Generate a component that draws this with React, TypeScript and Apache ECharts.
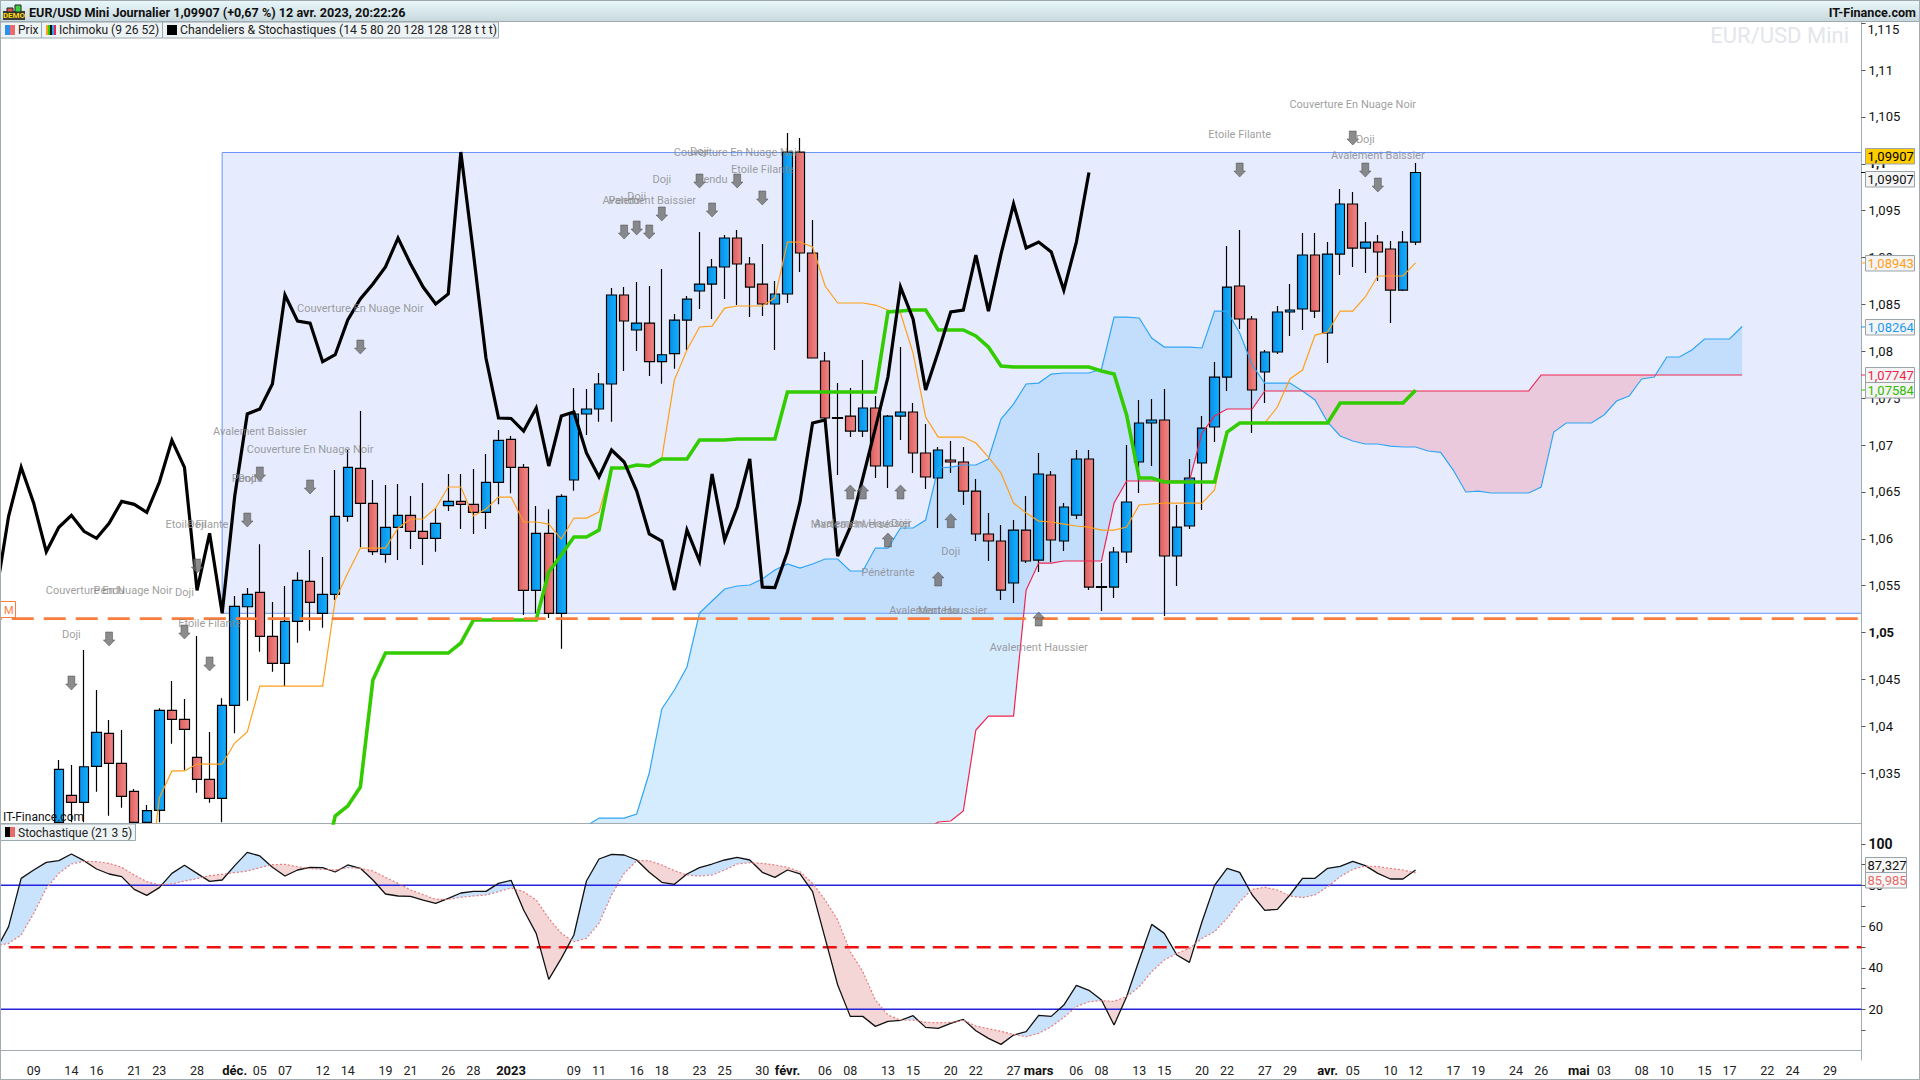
import React, { useEffect, useRef } from "react";
import * as echarts from "echarts";

const categories = [
"2022-11-04","2022-11-07","2022-11-08","2022-11-09","2022-11-10","2022-11-11","2022-11-14","2022-11-15","2022-11-16","2022-11-17","2022-11-18","2022-11-21","2022-11-22","2022-11-23","2022-11-24","2022-11-25","2022-11-28","2022-11-29","2022-11-30",
"2022-12-01","2022-12-02","2022-12-05","2022-12-06","2022-12-07","2022-12-08","2022-12-09","2022-12-12","2022-12-13","2022-12-14","2022-12-15","2022-12-16","2022-12-19","2022-12-20","2022-12-21","2022-12-22","2022-12-23","2022-12-26","2022-12-27","2022-12-28","2022-12-29","2022-12-30",
"2023-01-02","2023-01-03","2023-01-04","2023-01-05","2023-01-06","2023-01-09","2023-01-10","2023-01-11","2023-01-12","2023-01-13","2023-01-16","2023-01-17","2023-01-18","2023-01-19","2023-01-20","2023-01-23","2023-01-24","2023-01-25","2023-01-26","2023-01-27","2023-01-30","2023-01-31",
"2023-02-01","2023-02-02","2023-02-03","2023-02-06","2023-02-07","2023-02-08","2023-02-09","2023-02-10","2023-02-13","2023-02-14","2023-02-15","2023-02-16","2023-02-17","2023-02-20","2023-02-21","2023-02-22","2023-02-23","2023-02-24","2023-02-27","2023-02-28",
"2023-03-01","2023-03-02","2023-03-03","2023-03-06","2023-03-07","2023-03-08","2023-03-09","2023-03-10","2023-03-13","2023-03-14","2023-03-15","2023-03-16","2023-03-17","2023-03-20","2023-03-21","2023-03-22","2023-03-23","2023-03-24","2023-03-27","2023-03-28","2023-03-29","2023-03-30","2023-03-31",
"2023-04-03","2023-04-04","2023-04-05","2023-04-06","2023-04-07","2023-04-10","2023-04-11","2023-04-12","2023-04-13","2023-04-14","2023-04-17","2023-04-18","2023-04-19","2023-04-20","2023-04-21","2023-04-24","2023-04-25","2023-04-26","2023-04-27","2023-04-28",
"2023-05-01","2023-05-02","2023-05-03","2023-05-04","2023-05-05","2023-05-08","2023-05-09","2023-05-10","2023-05-11","2023-05-12","2023-05-15","2023-05-16","2023-05-17","2023-05-18","2023-05-19","2023-05-22","2023-05-23","2023-05-24","2023-05-25","2023-05-26","2023-05-29","2023-05-30","2023-05-31",
];

const tickLabels: Record<string, string> = {
"2022-11-09":"09","2022-11-14":"14","2022-11-16":"16","2022-11-21":"21","2022-11-23":"23","2022-11-28":"28","2022-11-30":"","2022-12-01":"déc.","2022-12-05":"05","2022-12-07":"07","2022-12-12":"12","2022-12-14":"14","2022-12-19":"19","2022-12-21":"21","2022-12-26":"26","2022-12-28":"28",
"2023-01-02":"2023","2023-01-04":"","2023-01-09":"09","2023-01-11":"11","2023-01-16":"16","2023-01-18":"18","2023-01-23":"23","2023-01-25":"25","2023-01-30":"30","2023-02-01":"févr.","2023-02-06":"06","2023-02-08":"08","2023-02-13":"13","2023-02-15":"15","2023-02-20":"20","2023-02-22":"22","2023-02-27":"27",
"2023-03-01":"mars","2023-03-06":"06","2023-03-08":"08","2023-03-13":"13","2023-03-15":"15","2023-03-20":"20","2023-03-22":"22","2023-03-27":"27","2023-03-29":"29","2023-04-03":"avr.","2023-04-05":"05","2023-04-10":"10","2023-04-12":"12","2023-04-17":"17","2023-04-19":"19","2023-04-24":"24","2023-04-26":"26",
"2023-05-01":"mai","2023-05-03":"03","2023-05-08":"08","2023-05-10":"10","2023-05-15":"15","2023-05-17":"17","2023-05-22":"22","2023-05-24":"24","2023-05-29":"29",
};
const boldTickLabels = ["déc.", "2023", "févr.", "mars", "avr.", "mai"];

const priceTicks = [1.035,1.04,1.045,1.05,1.055,1.06,1.065,1.07,1.075,1.08,1.085,1.09,1.095,1.1,1.105,1.11];
const boldPriceTicks = [1.05, 1.1];
const stochTicks = [20,40,60,80,100];
const stochMinorTicks = [10,20,30,40,50,60,70,80,90,100];

// Candles start on 2022-11-11 (index 5). Values below the panel's lower edge are unseen in the picture: they stop at that edge.
const opens = [1.02975,1.03263,1.03189,1.03573,1.03925,1.03605,1.03306,1.02975,1.03103,1.0417,1.04074,1.03669,1.03434,1.03231,1.04223,1.05275,1.05429,1.04959,1.04671,1.05119,1.05546,1.05205,1.05407,1.06239,1.06751,1.06378,1.05834,1.06122,1.0625,1.06079,1.06005,1.06353,1.06399,1.06367,1.06282,1.06602,1.07061,1.06762,1.0545,1.06058,1.05205,1.06627,1.07331,1.07384,1.07651,1.086,1.08227,1.08301,1.07889,1.07974,1.08333,1.08643,1.08717,1.08899,1.09208,1.08931,1.08717,1.08504,1.08611,1.10125,1.09048,1.07896,1.07293,1.07309,1.07149,1.07395,1.06776,1.07309,1.07352,1.06915,1.06648,1.0684,1.06819,1.06509,1.06051,1.05976,1.05528,1.06093,1.05773,1.0668,1.05976,1.06253,1.06851,1.0549,1.05485,1.05859,1.06819,1.07235,1.07267,1.05816,1.06136,1.06808,1.07192,1.07725,1.08696,1.08344,1.07779,1.07992,1.08419,1.08451,1.09027,1.08195,1.09037,1.09571,1.09101,1.09165,1.09091,1.08653,1.09165];
const closes = [1.03541,1.03189,1.03568,1.03935,1.03605,1.03253,1.02975,1.03099,1.0417,1.04074,1.03967,1.03434,1.03231,1.04223,1.05279,1.05407,1.04959,1.04671,1.05119,1.05557,1.05322,1.05407,1.06239,1.06762,1.06378,1.05862,1.06122,1.0625,1.06079,1.06005,1.06165,1.06399,1.06367,1.06282,1.06602,1.0705,1.06762,1.0545,1.06058,1.05205,1.06453,1.07331,1.07384,1.07651,1.086,1.08323,1.08301,1.07889,1.07963,1.08333,1.08557,1.08717,1.08899,1.09208,1.08931,1.08685,1.08504,1.08611,1.10125,1.09048,1.07928,1.07288,1.07283,1.07149,1.07395,1.06776,1.07309,1.07352,1.06915,1.06659,1.06947,1.06819,1.06509,1.06051,1.05976,1.05453,1.06093,1.05763,1.06691,1.05987,1.06339,1.06851,1.05485,1.0548,1.05859,1.06392,1.07235,1.07267,1.05816,1.06125,1.06648,1.07181,1.07725,1.08685,1.08344,1.07587,1.07992,1.08419,1.0844,1.09027,1.08429,1.09037,1.09571,1.09101,1.09165,1.09059,1.08653,1.09165,1.09907];
const highs = [1.0364,1.03587,1.04813,1.04387,1.04067,1.0396,1.03331,1.0316,1.04191,1.04483,1.04291,1.04963,1.03939,1.04298,1.05389,1.05475,1.05941,1.05325,1.05496,1.05642,1.0588,1.05805,1.06733,1.06947,1.07363,1.06627,1.06573,1.06584,1.06456,1.06595,1.06325,1.06691,1.06691,1.06744,1.06904,1.0716,1.07096,1.06797,1.06349,1.06314,1.06474,1.07608,1.07597,1.07768,1.08675,1.08685,1.08739,1.08696,1.08877,1.08397,1.08589,1.09272,1.08984,1.0924,1.09293,1.09005,1.09144,1.08749,1.10328,1.10275,1.094,1.07992,1.07661,1.07608,1.07907,1.07523,1.0732,1.08045,1.07448,1.07224,1.06979,1.07043,1.06979,1.06637,1.06275,1.06147,1.062,1.06456,1.06915,1.06723,1.06381,1.06947,1.06947,1.05741,1.05912,1.07,1.0748,1.07491,1.07597,1.0636,1.06851,1.07309,1.07885,1.09123,1.09293,1.08376,1.08013,1.08483,1.08717,1.09261,1.09261,1.09165,1.09731,1.09699,1.09379,1.0924,1.09176,1.09283,1.10008];
const lows = [1.02975,1.02975,1.02975,1.03302,1.03046,1.03131,1.02975,1.02975,1.02975,1.03814,1.03533,1.03291,1.03184,1.02975,1.03925,1.04272,1.04795,1.04582,1.04429,1.04891,1.05019,1.05051,1.05347,1.06182,1.05909,1.05827,1.05744,1.05773,1.05891,1.0572,1.05862,1.06296,1.06104,1.06051,1.06104,1.06367,1.06485,1.05187,1.05205,1.05155,1.04827,1.06513,1.07107,1.07249,1.07249,1.07789,1.08003,1.07736,1.07654,1.07814,1.08013,1.08451,1.08344,1.08557,1.08493,1.08365,1.08376,1.08013,1.08515,1.08845,1.07928,1.07277,1.0668,1.07085,1.07085,1.06648,1.06541,1.07053,1.06701,1.06531,1.06115,1.06701,1.0636,1.05976,1.05763,1.05347,1.05315,1.05741,1.05645,1.05752,1.05869,1.06211,1.05453,1.05229,1.05368,1.05741,1.06488,1.06776,1.05176,1.05496,1.06104,1.06307,1.07032,1.07576,1.08237,1.07128,1.07448,1.07971,1.08163,1.08227,1.08355,1.07875,1.08813,1.08899,1.08835,1.08749,1.08301,1.08643,1.09133];
const candleStart = 5;

// Ichimoku lines, each with the index of its first point
const chikouStart = 0;
const chikou = [1.05407,1.06239,1.06762,1.06378,1.05862,1.06122,1.0625,1.06079,1.06005,1.06165,1.06399,1.06367,1.06282,1.06602,1.0705,1.06762,1.0545,1.06058,1.05205,1.06453,1.07331,1.07384,1.07651,1.086,1.08323,1.08301,1.07889,1.07963,1.08333,1.08557,1.08717,1.08899,1.09208,1.08931,1.08685,1.08504,1.08611,1.10125,1.09048,1.07928,1.07288,1.07283,1.07149,1.07395,1.06776,1.07309,1.07352,1.06915,1.06659,1.06947,1.06819,1.06509,1.06051,1.05976,1.05453,1.06093,1.05763,1.06691,1.05987,1.06339,1.06851,1.05485,1.0548,1.05859,1.06392,1.07235,1.07267,1.05816,1.06125,1.06648,1.07181,1.07725,1.08685,1.08344,1.07587,1.07992,1.08419,1.0844,1.09027,1.08429,1.09037,1.09571,1.09101,1.09165,1.09059,1.08653,1.09165,1.09907];
const tenkanStart = 12;
const tenkan = [1.02136,1.03235,1.03523,1.03523,1.03597,1.03597,1.03597,1.03821,1.03939,1.04429,1.04429,1.04429,1.04429,1.04429,1.04429,1.05347,1.05635,1.05901,1.05901,1.05901,1.06115,1.06211,1.06211,1.06328,1.06552,1.06552,1.06243,1.06317,1.06445,1.06445,1.06179,1.06179,1.06157,1.05997,1.06221,1.06221,1.06285,1.06755,1.06755,1.06787,1.06787,1.06861,1.07693,1.08013,1.08259,1.08269,1.08461,1.08483,1.08483,1.08483,1.08568,1.09165,1.09165,1.09112,1.08696,1.08515,1.08515,1.08515,1.08493,1.0844,1.08408,1.07981,1.07299,1.07085,1.07085,1.07085,1.07021,1.06872,1.06701,1.06381,1.06275,1.06189,1.06179,1.06157,1.06136,1.06125,1.06093,1.06093,1.06125,1.0636,1.06371,1.06381,1.06381,1.06381,1.06381,1.0652,1.07139,1.07235,1.07235,1.07235,1.07405,1.07704,1.078,1.08173,1.08205,1.08429,1.08429,1.08579,1.08803,1.08803,1.08803,1.08943];
const kijunStart = 26;
const kijun = [1.02467,1.03043,1.03149,1.03352,1.04493,1.04781,1.04781,1.04781,1.04781,1.04781,1.04781,1.04888,1.05133,1.05133,1.05133,1.05133,1.05133,1.05133,1.05645,1.05827,1.06019,1.06019,1.06093,1.06755,1.06755,1.06787,1.06776,1.06851,1.06851,1.06851,1.07053,1.07053,1.07053,1.07064,1.07064,1.07064,1.07064,1.07565,1.07565,1.07565,1.07565,1.07565,1.07565,1.07565,1.07565,1.08419,1.0843,1.0844,1.0844,1.08227,1.08227,1.08227,1.08163,1.08045,1.07843,1.07832,1.07832,1.07832,1.07832,1.07832,1.07832,1.07832,1.07789,1.07757,1.0732,1.06648,1.06648,1.06605,1.06605,1.06605,1.06605,1.06605,1.07139,1.07235,1.07235,1.07235,1.07235,1.07235,1.07235,1.07235,1.07235,1.07448,1.07448,1.07448,1.07448,1.07448,1.07448,1.07584];
const senkouStart = 46;
const senkouA = [1.015,1.02936,1.03021,1.03021,1.03021,1.03064,1.03501,1.04184,1.04387,1.04632,1.05208,1.05336,1.05464,1.05496,1.05507,1.05571,1.05667,1.05731,1.05688,1.05731,1.05784,1.05784,1.05656,1.05656,1.05901,1.05901,1.06115,1.06115,1.062,1.06755,1.06765,1.06787,1.06787,1.06851,1.07277,1.07437,1.07651,1.07661,1.07757,1.07768,1.07768,1.07768,1.07811,1.08365,1.08365,1.08355,1.08141,1.08045,1.08045,1.08045,1.08035,1.08429,1.08429,1.08195,1.07853,1.07661,1.07661,1.07661,1.07576,1.0748,1.07245,1.07096,1.07043,1.07011,1.07011,1.06989,1.06979,1.06979,1.06936,1.06922,1.06733,1.06499,1.06509,1.06488,1.06488,1.06488,1.06488,1.06552,1.07139,1.07235,1.07235,1.07235,1.0732,1.07469,1.07523,1.07704,1.07725,1.07939,1.07939,1.08013,1.08131,1.08131,1.08131,1.08264];
const senkouB = [1.02893,1.02893,1.02893,1.02893,1.02893,1.02893,1.02893,1.02893,1.02893,1.02893,1.02893,1.02893,1.02893,1.02893,1.02893,1.02893,1.02893,1.02893,1.02893,1.02893,1.02893,1.02893,1.02893,1.02893,1.02893,1.02893,1.02893,1.02893,1.02893,1.02979,1.02989,1.03096,1.0396,1.04109,1.04109,1.04109,1.05453,1.05741,1.05741,1.05763,1.05763,1.05763,1.05763,1.06381,1.06616,1.06616,1.06616,1.06616,1.06616,1.06616,1.07128,1.07309,1.07384,1.07384,1.07384,1.07576,1.07576,1.07576,1.07576,1.07576,1.07576,1.07576,1.07576,1.07576,1.07576,1.07576,1.07576,1.07576,1.07576,1.07576,1.07576,1.07576,1.07576,1.07576,1.07576,1.07576,1.07576,1.07747,1.07747,1.07747,1.07747,1.07747,1.07747,1.07747,1.07747,1.07747,1.07747,1.07747,1.07747,1.07747,1.07747,1.07747,1.07747,1.07747];

const stochK = [48.67,59.96,83.33,87.36,91.07,91.87,95.1,91.87,87.84,85.43,84.14,78.01,75.11,78.82,85.75,89.62,85.75,81.88,82.52,89.46,95.9,94.13,88.65,84.46,87.36,88.65,88.49,86.39,89.78,88.17,82.52,75.75,74.79,74.62,72.85,71.24,73.66,76.24,77.04,77.04,80.91,82.36,68.02,56.73,34.48,44.64,55.93,82.04,92.68,94.94,94.61,92.2,86.23,81.4,80.43,85.43,88.49,90.26,92.2,93.49,92.2,86.23,83.81,87.36,85.43,76.88,54.31,31.74,16.59,16.59,11.76,14.17,14.66,16.91,11.27,10.79,13.21,15.14,9.66,5.95,3.05,7.56,9.18,17.07,16.59,22.07,31.58,29.17,24.49,12.4,26.12,43.84,61.08,56.73,46.25,42.71,62.37,79.94,88.17,86.23,75.27,67.85,68.34,75.27,83.33,83.33,88.17,89.13,91.55,89.46,85.75,83.01,83.01,87.33];
const stochD = [50.6,51.89,55.93,66.4,78.49,85.75,90.26,91.55,91.39,90.58,88.65,84.94,81.72,80.11,80.59,82.04,83.17,84.62,85.26,86.07,86.88,88.49,89.94,90.1,88.97,88.0,87.68,87.36,88.49,88.17,86.88,83.81,80.91,77.69,75.43,73.17,73.17,74.14,74.79,75.27,76.88,78.66,76.88,72.85,63.98,56.73,52.7,54.31,61.57,75.27,85.75,91.87,91.87,89.78,87.04,84.94,84.46,84.94,87.36,90.26,90.91,90.58,89.78,88.65,86.55,80.91,72.85,63.18,47.86,38.19,24.49,17.24,14.82,14.82,13.69,13.53,13.69,14.82,11.92,10.63,9.34,7.89,6.76,8.37,11.6,16.11,21.27,23.69,24.17,23.85,26.12,30.94,38.19,43.84,47.06,49.48,54.31,57.54,63.98,72.03,78.01,78.98,77.69,74.79,73.98,75.27,79.3,84.14,87.68,89.29,88.97,88.17,87.36,85.99];

// Signals: [date, price]
const downArrows: [string, number][] = [["2022-11-14",1.04461],["2022-11-17",1.04931],["2022-11-25",1.05005],["2022-11-29",1.04664],["2022-11-28",1.05709],["2022-12-02",1.062],["2022-12-05",1.06691],["2022-12-09",1.06552],["2022-12-15",1.08045],["2023-01-13",1.09272],["2023-01-16",1.09315],["2023-01-17",1.09272],["2023-01-18",1.09464],["2023-01-23",1.09816],["2023-01-24",1.09507],["2023-01-26",1.09816],["2023-01-30",1.09635],["2023-03-23",1.09933],["2023-04-05",1.10275],["2023-04-06",1.09933],["2023-04-07",1.09773]];
const upArrows: [string, number][] = [["2023-02-08",1.06499],["2023-02-09",1.06499],["2023-02-14",1.06499],["2023-02-13",1.05987],["2023-02-20",1.06193],["2023-02-17",1.05571],["2023-03-01",1.05144]];
const signalLabels: [string, number, string][] = [
["2022-11-14",1.04984,"Doji"],["2022-11-17",1.05443,"Couverture En Nuage Noir"],["2022-11-17",1.05443,"Pendu"],["2022-11-25",1.05432,"Doji"],["2022-11-29",1.05091,"Etoile Filante"],["2022-11-28",1.06157,"Etoile Filante"],["2022-11-28",1.06157,"Doji"],["2022-12-02",1.06648,"Pendu"],["2022-12-02",1.06648,"Doji"],["2022-12-05",1.07139,"Avalement Baissier"],["2022-12-09",1.06957,"Couverture En Nuage Noir"],["2022-12-15",1.08451,"Couverture En Nuage Noir"],
["2023-01-13",1.09613,"Pendu"],["2023-01-16",1.09656,"Doji"],["2023-01-17",1.09613,"Avalement Baissier"],["2023-01-18",1.09827,"Doji"],["2023-01-23",1.10136,"Doji"],["2023-01-24",1.09827,"Pendu"],["2023-01-26",1.10125,"Couverture En Nuage Noir"],["2023-01-30",1.09944,"Etoile Filante"],["2023-03-23",1.10317,"Etoile Filante"],["2023-04-05",1.10627,"Couverture En Nuage Noir"],["2023-04-06",1.10264,"Doji"],["2023-04-07",1.10093,"Avalement Baissier"],
["2023-02-08",1.06147,"Marteau Inversé"],["2023-02-09",1.06168,"Avalement Haussier"],["2023-02-14",1.06168,"Doji"],["2023-02-13",1.05645,"Pénétrante"],["2023-02-20",1.05869,"Doji"],["2023-02-17",1.0524,"Avalement Haussier"],["2023-02-17",1.0524,"Marteau"],["2023-03-01",1.04835,"Avalement Haussier"],
];

const rangeTop = 1.1012;
const rangeBottom = 1.05205;
const rangeStartDate = "2022-11-30";
const medianLevel = 1.05149;
const stochBands = [80, 20];
const stochMid = 50;

const priceMin = 1.02968;
const priceMax = 1.11523;

const FONT = "Roboto, sans-serif";
// The first bars lie left of the page edge: the chart's box starts OX pixels outside the page.
const OX = 11;
const GRID_L = 0.75;
const GRID_W = 1871.75;

function pad(start: number, arr: number[]): any[] {
  const out: any[] = new Array(start).fill("-");
  return out.concat(arr);
}

function fillBetween(api: any, start: number, a: number[], b: number[], posFill: string, negFill: string) {
  const children: any[] = [];
  let top: number[][] = [];
  let bot: number[][] = [];
  const flush = (sign: number) => {
    if (top.length > 1) {
      children.push({ type: "polygon", shape: { points: top.concat(bot.slice().reverse()) }, style: { fill: sign > 0 ? posFill : negFill } });
    }
    top = [];
    bot = [];
  };
  const diff = (i: number) => (a[i] - b[i] === 0 ? 1e-9 : a[i] - b[i]);
  for (let i = 0; i < a.length; i++) {
    const pa = api.coord([start + i, a[i]]);
    const pb = api.coord([start + i, b[i]]);
    if (i > 0) {
      const d0 = diff(i - 1);
      const d1 = diff(i);
      if (d0 * d1 < 0) {
        const t = d0 / (d0 - d1);
        const pa0 = api.coord([start + i - 1, a[i - 1]]);
        const pb0 = api.coord([start + i - 1, b[i - 1]]);
        const cx = pa0[0] + (pa[0] - pa0[0]) * t;
        const cy = pa0[1] + (pa[1] - pa0[1]) * t;
        top.push([cx, cy]);
        bot.push([cx, pb0[1] + (pb[1] - pb0[1]) * t]);
        flush(d0);
        top.push([cx, cy]);
        bot.push([cx, cy]);
      }
    }
    top.push(pa);
    bot.push(pb);
  }
  flush(diff(a.length - 1));
  return { type: "group", children };
}

function headerGraphic() {
  const els: any[] = [];
  const txt = (x: number, y: number, text: string, font: string, fill: string, align = "left", z = 50) => ({
    type: "text", x: x + OX, y, z, style: { text, font, fill, align, verticalAlign: "middle" }, silent: true,
  });
  const rect = (x: number, y: number, w: number, h: number, fill: any, stroke?: string, z = 48) => ({
    type: "rect", z, shape: { x: x + OX, y, width: w, height: h }, style: { fill, stroke, lineWidth: stroke ? 1 : 0 }, silent: true,
  });
  // title bar
  els.push(rect(0, 0, 1920, 21, new echarts.graphic.LinearGradient(0, 0, 0, 1, [{ offset: 0, color: "#eaf8fc" }, { offset: 1, color: "#c8d9de" }])));
  els.push(rect(0, 0, 1920, 1, "#9fa9ae"), rect(0, 21, 1920, 1, "#9fa9ae"));
  els.push(rect(3, 11, 22, 9, "#3a3a3a"), rect(7, 8, 6, 4, "#d9534f", "#222"), rect(15, 5, 6, 7, "#3fd13f", "#222"));
  els.push(txt(14, 15.5, "DEMO", "bold 8px " + FONT, "#ffd800", "center", 51));
  els.push(txt(29, 12, "EUR/USD Mini Journalier 1,09907 (+0,67 %) 12 avr. 2023, 20:22:26", "bold 12.6px " + FONT, "#111"));
  els.push(txt(1916, 12, "IT-Finance.com", "bold 12.6px " + FONT, "#111", "right"));
  // legend boxes
  const bf = "#eef3f5";
  const bs = "#9aa8b0";
  els.push(rect(0.5, 22, 41, 16, bf, bs), rect(41.5, 22, 121, 16, bf, bs), rect(162.5, 22, 336, 16, bf, bs));
  els.push(rect(5, 25, 5, 10, "#2f8fea", undefined, 49), rect(10, 25, 5, 10, "#e86a6a", undefined, 49));
  ["#ff9f1a", "#33cc00", "#111111", "#2fa5f5", "#f0244f"].forEach((c, i) => els.push(rect(46 + i * 2, 25, 2, 10, c, undefined, 49)));
  els.push(rect(167, 25, 10, 10, "#000", undefined, 49));
  els.push(txt(18, 30, "Prix", "12px " + FONT, "#222"));
  els.push(txt(59, 30, "Ichimoku (9 26 52)", "12px " + FONT, "#222"));
  els.push(txt(180, 30, "Chandeliers & Stochastiques (14 5 80 20 128 128 128 t t t)", "12.25px " + FONT, "#222"));
  // lower panel legend
  els.push(rect(0.5, 824, 135, 16.5, bf, bs));
  els.push(rect(5, 827, 5, 10, "#000", undefined, 49), rect(10, 827, 5, 10, "#e86a6a", undefined, 49));
  els.push(txt(18, 832.5, "Stochastique (21 3 5)", "12px " + FONT, "#222"));
  els.push(txt(3, 817, "IT-Finance.com", "12px " + FONT, "#111"));
  // watermark
  els.push(txt(1849, 35, "EUR/USD Mini", "22px " + FONT, "#e3e6ea", "right", 5));
  // M tag
  els.push(rect(0.5, 601.5, 15, 16, "#fff", "#fb7d3c"));
  els.push(txt(4, 610, "M", "11px " + FONT, "#fb7d3c"));
  // 1,115 sits just below the top edge
  els.push(txt(1867.5, 29, "1,115", "13px " + FONT, "#111"));
  // readouts
  const box = (y: number, label: string, color: string, fill: string, w = 49) => {
    els.push(rect(1865.5, y - 7.5, w, 15.5, fill, "#9aa3a8", 52));
    els.push(txt(1867.5, y, label, "13px " + FONT, color, "left", 53));
  };
  box(156, "1,09907", "#000", "#ffcc00");
  box(179, "1,09907", "#111", "#f4f4f4");
  box(263, "1,08943", "#ff9f1a", "#f4f4f4");
  box(327, "1,08264", "#1e9bf0", "#f4f4f4");
  box(375, "1,07747", "#f0244f", "#f4f4f4");
  box(390, "1,07584", "#33bb00", "#f4f4f4");
  box(865, "87,327", "#111", "#f7f7f7", 41);
  box(880, "85,985", "#e86a6a", "#f7f7f7", 41);
  const tick = (y: number, c: string) => els.push(rect(1861, y - 0.5, 4.5, 1, c, undefined, 51));
  tick(172.5, "#111"); tick(263, "#ff9f1a"); tick(327, "#1e9bf0"); tick(375, "#f0244f"); tick(390, "#33cc00");
  // frame
  els.push(rect(0, 0, 1, 1080, "#a3acb1", undefined, 60), rect(0, 1079, 1920, 1, "#a3acb1", undefined, 60), rect(1919, 0, 1, 1080, "#a3acb1", undefined, 60));
  return els;
}

function buildOption() {
  const ohlc: any[] = new Array(candleStart).fill(["-", "-", "-", "-"]);
  opens.forEach((o, i) => ohlc.push([o, closes[i], lows[i], highs[i]]));
  const blue = new echarts.graphic.LinearGradient(0, 0, 1, 0, [{ offset: 0, color: "#0b8de6" }, { offset: 1, color: "#12b2ff" }]);
  const red = new echarts.graphic.LinearGradient(0, 0, 1, 0, [{ offset: 0, color: "#de5f5f" }, { offset: 1, color: "#f18787" }]);
  const thin = (name: string, start: number, data: number[], color: string, width: number, z: number) => ({
    type: "line", name, data: pad(start, data), xAxisIndex: 0, yAxisIndex: 0, showSymbol: false, symbol: "none", z,
    lineStyle: { color, width, join: "miter" }, silent: true,
  });
  const axisGrey = "#a3acb1";
  const levelLine = (name: string, xi: number, level: number, z: number, style: any) => ({
    type: "custom", name, xAxisIndex: xi, yAxisIndex: xi, z, silent: true, clip: true, data: [[0, level]],
    renderItem: (params: any, api: any) => {
      const y = api.coord([0, level])[1];
      const cs = params.coordSys;
      return { type: "line", shape: { x1: cs.x, y1: y, x2: cs.x + cs.width, y2: y }, style: { fill: null, ...style } };
    },
  });
  return {
    animation: false,
    backgroundColor: "#fff",
    grid: [
      { left: GRID_L, width: GRID_W, top: 21, height: 802 },
      { left: GRID_L, width: GRID_W, top: 824, height: 236 },
    ],
    xAxis: [
      { type: "category", gridIndex: 0, data: categories, boundaryGap: true, axisLine: { lineStyle: { color: axisGrey, width: 1 } }, axisTick: { show: false }, axisLabel: { show: false }, splitLine: { show: false } },
      {
        type: "category", gridIndex: 1, data: categories, boundaryGap: true,
        axisLine: { lineStyle: { color: axisGrey, width: 1 } },
        axisTick: { alignWithLabel: true, length: 3, lineStyle: { color: "#555" }, interval: (_: number, v: string) => v in tickLabels },
        axisLabel: {
          interval: (_: number, v: string) => !!tickLabels[v],
          formatter: (v: string) => {
            const t = tickLabels[v] || "";
            return boldTickLabels.includes(t) ? `{b|${t}}` : t;
          },
          margin: 4, fontFamily: FONT, fontSize: 12.5, color: "#222",
          rich: { b: { fontFamily: FONT, fontSize: 13, fontWeight: "bold", color: "#111" } },
        },
        splitLine: { show: false },
      },
    ],
    yAxis: [
      {
        type: "value", gridIndex: 0, position: "right", min: priceMin, max: priceMax, scale: true,
        axisLine: { show: true, lineStyle: { color: axisGrey } },
        axisTick: { show: true, length: 4, lineStyle: { color: "#555" }, customValues: priceTicks.concat([1.115]) },
        axisLabel: {
          margin: 7, fontFamily: FONT, fontSize: 13, color: "#111", customValues: priceTicks,
          formatter: (v: number) => {
            const t = String(+v.toFixed(3)).replace(".", ",");
            return boldPriceTicks.includes(+v.toFixed(3)) ? `{b|${t}}` : t;
          },
          rich: { b: { fontFamily: FONT, fontSize: 13, fontWeight: "bold", color: "#111" } },
        },
        splitLine: { show: false },
      },
      {
        type: "value", gridIndex: 1, position: "right", min: -4.5, max: 109.6,
        axisLine: { show: true, lineStyle: { color: axisGrey } },
        axisTick: { show: true, length: 4, lineStyle: { color: "#555" }, customValues: stochMinorTicks },
        axisLabel: {
          margin: 7, fontFamily: FONT, fontSize: 13, color: "#111", customValues: stochTicks,
          formatter: (v: number) => (v === 100 ? "{b|100}" : String(v)),
          rich: { b: { fontFamily: FONT, fontSize: 14, fontWeight: "bold", color: "#111" } },
        },
        splitLine: { show: false },
      },
    ],
    graphic: headerGraphic(),
    series: [
      {
        type: "custom", name: "Zone", xAxisIndex: 0, yAxisIndex: 0, z: 0, silent: true, clip: true, data: [[0, rangeTop]],
        renderItem: (params: any, api: any) => {
          const i = categories.indexOf(rangeStartDate);
          const p1 = api.coord([i, rangeTop]);
          const p2 = api.coord([i, rangeBottom]);
          const right = params.coordSys.x + params.coordSys.width;
          return { type: "rect", shape: { x: p1[0], y: p1[1], width: right - p1[0], height: p2[1] - p1[1] }, style: { fill: "#e6ecfd", stroke: "#6c96f4", lineWidth: 1 } };
        },
      },
      {
        type: "custom", name: "Nuage", xAxisIndex: 0, yAxisIndex: 0, z: 1, silent: true, clip: true, data: [[0, rangeTop]],
        renderItem: (_: any, api: any) => fillBetween(api, senkouStart, senkouA, senkouB, "rgba(100,180,250,0.27)", "#eac9dc"),
      },
      {
        type: "candlestick", name: "Prix", xAxisIndex: 0, yAxisIndex: 0, z: 2, barWidth: 10, data: ohlc, clip: true, silent: true,
        itemStyle: { color: blue, color0: red, borderColor: "#000", borderColor0: "#000", borderColorDoji: "#000", borderWidth: 1.2 },
      },
      thin("Senkou A", senkouStart, senkouA, "#2fa5f5", 1.2, 3),
      thin("Senkou B", senkouStart, senkouB, "#f0244f", 1.2, 3),
      thin("Tenkan", tenkanStart, tenkan, "#ff9f1a", 1.2, 3),
      thin("Kijun", kijunStart, kijun, "#33cc00", 3.6, 4),
      thin("Chikou", chikouStart, chikou, "#000", 3.2, 5),
      levelLine("Médiane", 0, medianLevel, 6, { stroke: "#fb7d3c", lineWidth: 2.8, lineDash: [22, 10], lineDashOffset: 10.2 }),
      {
        type: "scatter", name: "Baissier", xAxisIndex: 0, yAxisIndex: 0, z: 7, silent: true, symbol: "path://M2 0H8V8H10L5 14L0 8H2Z", symbolSize: [11.5, 14],
        itemStyle: { color: "#6f6f6f", borderColor: "#444", borderWidth: 0.6 }, data: downArrows,
      },
      {
        type: "scatter", name: "Haussier", xAxisIndex: 0, yAxisIndex: 0, z: 7, silent: true, symbol: "path://M5 0L10 6H8V14H2V6H0Z", symbolSize: [11.5, 14],
        itemStyle: { color: "#6f6f6f", borderColor: "#444", borderWidth: 0.6 }, data: upArrows,
      },
      {
        type: "scatter", name: "Signaux", xAxisIndex: 0, yAxisIndex: 0, z: 8, silent: true, symbolSize: 0,
        data: signalLabels.map(([d, p, t]) => ({ value: [d, p], name: t })),
        label: { show: true, position: "inside", formatter: (p: any) => p.name, fontFamily: FONT, fontSize: 11, color: "#858585" },
      },
      {
        type: "custom", name: "Zone stoch", xAxisIndex: 1, yAxisIndex: 1, z: 1, silent: true, clip: true, data: [[0, 50]],
        renderItem: (_: any, api: any) => fillBetween(api, 0, stochK, stochD, "#c9e3fc", "#f5d6d6"),
      },
      levelLine("Bande haute", 1, stochBands[0], 2, { stroke: "#2424dc", lineWidth: 1.5 }),
      levelLine("Bande basse", 1, stochBands[1], 2, { stroke: "#2424dc", lineWidth: 1.5 }),
      levelLine("Milieu", 1, stochMid, 2, { stroke: "#ee1111", lineWidth: 2.6, lineDash: [14, 8], lineDashOffset: 3 }),
      {
        type: "line", name: "%K", xAxisIndex: 1, yAxisIndex: 1, data: stochK, showSymbol: false, symbol: "none", z: 3, silent: true,
        lineStyle: { color: "#111", width: 1.3 },
      },
      {
        type: "line", name: "%D", xAxisIndex: 1, yAxisIndex: 1, data: stochD, showSymbol: false, symbol: "none", z: 3, silent: true,
        lineStyle: { color: "#e87c7c", width: 1.2, type: [2, 2] },
      },
    ],
  };
}

export default function App() {
  const ref = useRef<HTMLDivElement>(null);
  useEffect(() => {
    document.body.style.margin = "0";
    const chart = echarts.init(ref.current!, undefined, { renderer: "svg" });
    chart.setOption(buildOption() as any);
    return () => chart.dispose();
  }, []);
  return <div ref={ref} style={{ position: "absolute", left: -OX, top: 0, width: 1920 + OX, height: 1080 }} />;
}
